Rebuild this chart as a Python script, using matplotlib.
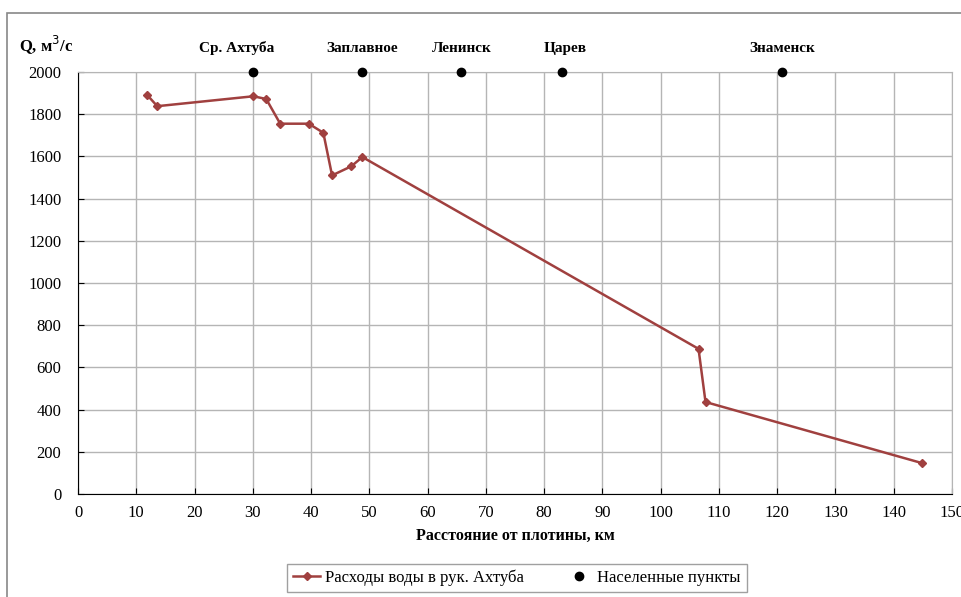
import matplotlib.pyplot as plt
from matplotlib.patches import Rectangle

# discharge along the Akhtuba branch
dist_km = [11.9, 13.6, 30.1, 32.3, 34.7, 39.6, 42.1, 43.6, 46.9, 48.8, 106.5, 107.7, 144.8]
discharge = [1890, 1838, 1885, 1872, 1755, 1755, 1712, 1510, 1553, 1597, 688, 436, 147]

# settlements along the branch
towns = ['Ср. Ахтуба', 'Заплавное', 'Ленинск', 'Царев', 'Знаменск']
town_km = [30.1, 48.8, 65.8, 83.0, 120.8]
town_q = [2000, 2000, 2000, 2000, 2000]
label_shift = [-2.8, 0, 0, 0.6, 0]   # label offsets (km) as placed in the original

plt.rcParams['font.family'] = ['Liberation Serif', 'DejaVu Serif']

fig = plt.figure(figsize=(9.61, 5.97), dpi=100)
ax = fig.add_axes([0.0812, 0.1725, 0.9094, 0.7069])

# outer chart frame
fig.patches.append(Rectangle((7 / 961, -0.1), 1.2, 1 - 13 / 597 + 0.1,
                             transform=fig.transFigure, fill=False,
                             edgecolor='#888888', linewidth=1.2))

line, = ax.plot(dist_km, discharge, color='#A0403F', marker='D', markersize=4,
                linewidth=1.8, label='Расходы воды в рук. Ахтуба', zorder=3)
pts, = ax.plot(town_km, town_q, 'o', color='black', markersize=6,
               label='Населенные пункты', clip_on=False, zorder=4)
for name, x, dx in zip(towns, town_km, label_shift):
    ax.text(x + dx, 2080, name, ha='center', va='bottom', fontsize=11,
            fontweight='bold')

ax.set_xlim(0, 150)
ax.set_ylim(0, 2000)
ax.set_xticks(range(0, 151, 10))
ax.set_yticks(range(0, 2001, 200))
ax.grid(True, color='#b5b5b5', linewidth=1)
ax.set_axisbelow(True)
for side in ['top', 'right']:
    ax.spines[side].set_color('#b5b5b5')
for side in ['left', 'bottom']:
    ax.spines[side].set_color('black')
ax.tick_params(labelsize=12, length=4, direction='in', color='black')
ax.tick_params(axis='y', pad=12)
ax.tick_params(axis='x', pad=8)

ax.set_xlabel('Расстояние от плотины, км', fontsize=11.5, fontweight='bold',
              labelpad=5)
fig.text(46 / 961, 1 - 45 / 597, 'Q, м$^3$/с', ha='center', va='center',
         fontsize=12, fontweight='bold')

leg = fig.legend(handles=[line, pts], loc='center', ncol=2,
                 bbox_to_anchor=(517 / 961, 1 - 578 / 597), fontsize=12,
                 frameon=True, fancybox=False, edgecolor='#888888',
                 handlelength=1.6, handletextpad=0.3, columnspacing=2.5,
                 borderpad=0.35)

fig.savefig('out.png', dpi=100)
